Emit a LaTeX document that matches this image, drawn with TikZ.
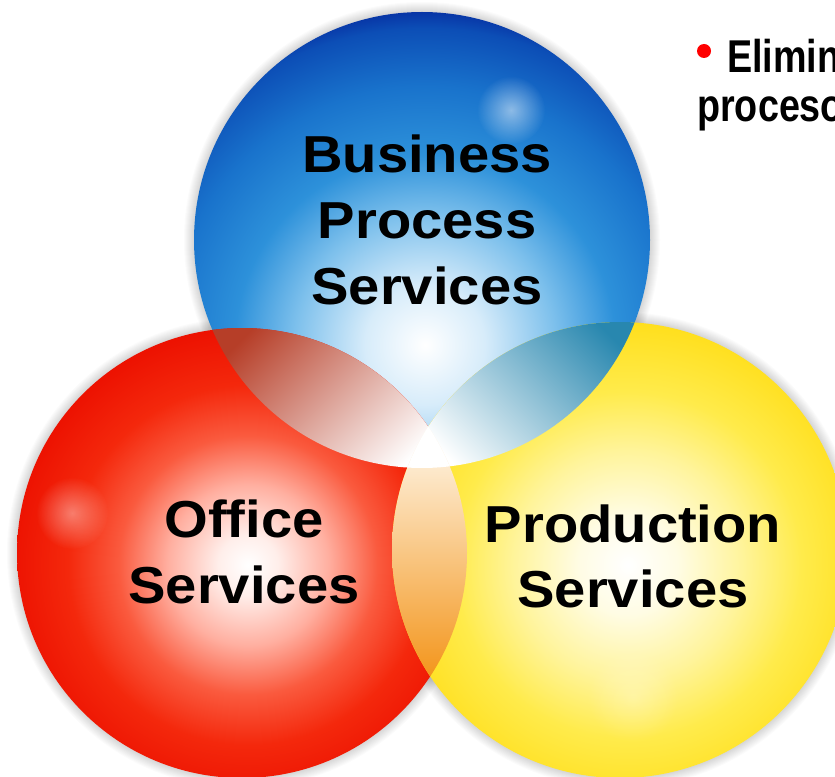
\documentclass[tikz,border=0pt]{standalone}
\usepackage{fontspec}
\setmainfont{Liberation Sans}
\newfontfamily\lblfont{Liberation Sans Bold}[FakeStretch=1.08]
\newfontfamily\topfont{Liberation Sans Bold}[FakeStretch=0.82]
\usetikzlibrary{fadings}
\definecolor{blA}{RGB}{215,236,250}
\definecolor{blB}{RGB}{125,192,236}
\definecolor{blC}{RGB}{45,145,218}
\definecolor{blD}{RGB}{25,115,204}
\definecolor{blE}{RGB}{12,78,182}
\definecolor{blF}{RGB}{4,32,152}
\definecolor{rdA}{RGB}{255,238,234}
\definecolor{rdB}{RGB}{255,175,160}
\definecolor{rdC}{RGB}{250,90,62}
\definecolor{rdD}{RGB}{244,40,12}
\definecolor{rdE}{RGB}{236,16,0}
\definecolor{ylA}{RGB}{255,252,228}
\definecolor{ylB}{RGB}{255,244,155}
\definecolor{ylC}{RGB}{255,235,75}
\definecolor{ylD}{RGB}{255,222,25}
\definecolor{brn}{RGB}{182,62,40}
\definecolor{pnk}{RGB}{232,178,166}
\definecolor{teal}{RGB}{40,135,175}
\definecolor{ltcy}{RGB}{180,220,232}
\definecolor{cream}{RGB}{255,250,240}
\definecolor{lorg}{RGB}{252,208,145}
\definecolor{orng}{RGB}{243,148,25}
\pgfdeclareradialshading{bluesh}{\pgfpointorigin}{color(0bp)=(white); color(4.4bp)=(blA); color(9.6bp)=(blB); color(14bp)=(blC); color(19bp)=(blD); color(23.3bp)=(blE); color(25.5bp)=(blF); color(50bp)=(blF)}
\pgfdeclareradialshading{redsh}{\pgfpointorigin}{color(0bp)=(white); color(3.1bp)=(rdA); color(8.3bp)=(rdB); color(13.4bp)=(rdC); color(18.6bp)=(rdD); color(25bp)=(rdE); color(50bp)=(rdE)}
\pgfdeclareradialshading{yelsh}{\pgfpointorigin}{color(0bp)=(white); color(5bp)=(ylA); color(11.5bp)=(ylB); color(17.5bp)=(ylC); color(25bp)=(ylD); color(50bp)=(ylD)}
\tikzfading[name=softspot, inner color=transparent!0, outer color=transparent!100]
\tikzset{
  lbl/.style={font=\lblfont\fontsize{39}{39}\selectfont, inner sep=0pt, anchor=base, text=black},
  toptxt/.style={font=\topfont\fontsize{34.5}{34.5}\selectfont, inner sep=0pt, anchor=base west, text=black},
  glow/.style={white, path fading=softspot}
}
\begin{document}
\begin{tikzpicture}[x=0.75pt,y=-0.75pt]
\useasboundingbox (0,0) rectangle (835,777);
\fill[white] (0,0) rectangle (835,777);
\clip (0,0) rectangle (835,777);
\coordinate (cB) at (422,240);
\coordinate (cR) at (242,553);
\coordinate (cY) at (620,550);
% soft drop shadows
\foreach \k in {1,...,10}{
  \fill[black,opacity=0.014] (cB) circle ({228+\k});
  \fill[black,opacity=0.014] (cR) circle ({225+\k});
  \fill[black,opacity=0.014] (cY) circle ({228+\k});
}
% blue circle
\begin{scope}
  \clip (cB) circle (228);
  \shade[shading=bluesh] (425,345) circle (340);
\end{scope}
% red circle
\begin{scope}
  \clip (cR) circle (225);
  \shade[shading=redsh] (248,565) circle (242);
\end{scope}
% yellow circle
\begin{scope}
  \clip (cY) circle (228);
  \shade[shading=yelsh] (628,565) circle (248);
\end{scope}
% blue-red lens
\begin{scope}
  \clip (cB) circle (228);
  \clip (cR) circle (225);
  \shade[shading=axis, top color=brn, middle color=pnk, bottom color=white, shading angle=45] (200,320) rectangle (460,470);
\end{scope}
% blue-yellow lens
\begin{scope}
  \clip (cB) circle (228);
  \clip (cY) circle (228);
  \shade[shading=axis, top color=teal, middle color=ltcy, bottom color=white, shading angle=-45] (400,315) rectangle (650,470);
\end{scope}
% red-yellow lens
\begin{scope}
  \clip (cR) circle (225);
  \clip (cY) circle (228);
  \shade[top color=cream, middle color=lorg, bottom color=orng] (385,425) rectangle (475,680);
\end{scope}
% centre
\begin{scope}
  \clip (cB) circle (228);
  \clip (cR) circle (225);
  \fill[white] (cY) circle (228);
\end{scope}
% highlights
\fill[glow, fill opacity=0.5] (511,110) circle (34);
\fill[glow, fill opacity=0.4] (72,513) circle (36);
\fill[glow, fill opacity=0.25] (633,697) circle (45);
% labels
\node[lbl] (b1) at (427,173) {Business};
\node[lbl] (b2) at (427,239) {Process};
\node[lbl] (b3) at (427,305) {Services};
\node[lbl] (o1) at (244,537) {Office};
\node[lbl] (o2) at (244,603) {Services};
\node[lbl] (p1) at (633,542) {Production};
\node[lbl] (p2) at (633,607) {Services};
% top-right text
\node[circle, fill=red, inner sep=0pt, minimum size=10.5pt] (bul) at (704,51) {};
\node[toptxt] (t1) at (727,73) {Elimin};
\node[toptxt] (t2) at (697,122) {proceso};
\end{tikzpicture}
\end{document}
